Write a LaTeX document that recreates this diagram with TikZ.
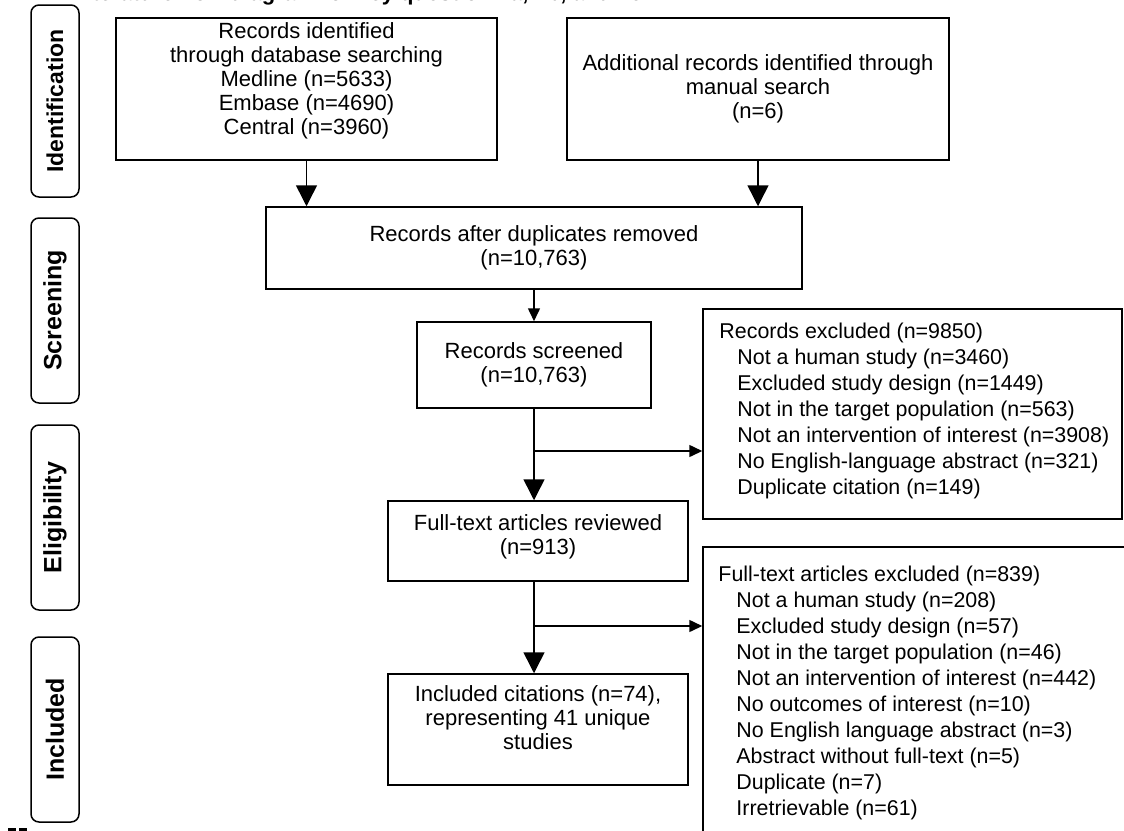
\documentclass[tikz,border=0pt]{standalone}
\usepackage{fontspec}
\setmainfont{Liberation Sans}
\usetikzlibrary{arrows.meta}
\begin{document}
\begin{tikzpicture}[x=1pt,y=-1pt,
  box/.style={draw, line width=1.5pt, inner sep=0pt, align=center, font=\fontsize{22}{24}\selectfont},
  exbox/.style={draw, line width=1.5pt, inner sep=0pt},
  extext/.style={anchor=west, inner sep=0pt, align=left, font=\fontsize{21.4}{25.9}\selectfont},
  side/.style={draw, rounded corners=8pt, line width=1.5pt, inner sep=0pt, rotate=90, minimum height=48pt, font=\bfseries\fontsize{25}{28}\selectfont},
  big/.style={-{Triangle[length=21pt,width=21pt]}, line width=1.5pt},
  small/.style={-{Triangle[length=13pt,width=12pt]}, line width=1.5pt}]
\useasboundingbox (0,0) rectangle (1124,830);
\clip (0,0) rectangle (1124,830);

\node[anchor=base west, font=\bfseries\fontsize{22}{26}\selectfont] (title) at (69,0.5) {Literature flow diagram for key question 1a, 1b, and 1c};

% side labels
\node[side, minimum width=192pt, font=\bfseries\fontsize{23}{26}\selectfont] (sid) at (55,101) {Identification};
\node[side, minimum width=185pt] (ssc) at (55,310.5) {Screening};
\node[side, minimum width=185pt] (sel) at (55,517.5) {Eligibility};
\node[side, minimum width=185pt] (sin) at (55,729.5) {Included};

% main boxes
\node[box, minimum width=381pt, minimum height=142pt] (A) at (306.5,89)
  {Records identified\\through database searching\\Medline (n=5633)\\Embase (n=4690)\\Central (n=3960)\\[-4pt]\mbox{}};
\node[box, minimum width=382pt, minimum height=142pt] (B) at (758,89)
  {Additional records identified through\\manual search\\(n=6)};
\node[box, minimum width=536pt, minimum height=82pt] (D) at (534,248)
  {Records after duplicates removed\\(n=10,763)};
\node[box, minimum width=234pt, minimum height=86pt] (S) at (534,365)
  {Records screened\\(n=10,763)};
\node[box, minimum width=300pt, minimum height=80pt] (F) at (538,541)
  {Full-text articles reviewed\\(n=913)\\[-12pt]\mbox{}};
\node[box, minimum width=300pt, minimum height=111pt] (I) at (538,729.5)
  {Included citations (n=74),\\representing 41 unique\\studies\\[0pt]\mbox{}};

% exclusion boxes
\node[exbox, minimum width=419pt, minimum height=210pt] (E1) at (912.5,414) {};
\node[extext] (E1t) at ([xshift=17pt,yshift=3pt]E1.west)
  {Records excluded (n=9850)\\
   \hspace*{18pt}Not a human study (n=3460)\\
   \hspace*{18pt}Excluded study design (n=1449)\\
   \hspace*{18pt}Not in the target population (n=563)\\
   \hspace*{18pt}Not an intervention of interest (n=3908)\\
   \hspace*{18pt}No English-language abstract (n=321)\\
   \hspace*{18pt}Duplicate citation (n=149)};
\node[exbox, minimum width=447pt, minimum height=292pt] (E2) at (926.5,693) {};
\node[extext] (E2t) at ([xshift=16pt]E2.west)
  {Full-text articles excluded (n=839)\\
   \hspace*{18pt}Not a human study (n=208)\\
   \hspace*{18pt}Excluded study design (n=57)\\
   \hspace*{18pt}Not in the target population (n=46)\\
   \hspace*{18pt}Not an intervention of interest (n=442)\\
   \hspace*{18pt}No outcomes of interest (n=10)\\
   \hspace*{18pt}No English language abstract (n=3)\\
   \hspace*{18pt}Abstract without full-text (n=5)\\
   \hspace*{18pt}Duplicate (n=7)\\
   \hspace*{18pt}Irretrievable (n=61)};

% connectors
\draw[big] (A.south) -- (A.south |- D.north);
\draw[big] (B.south) -- (B.south |- D.north);
\draw[small] (D.south) -- (S.north);
\draw[big] (S.south) -- (S.south |- F.north);
\coordinate (b1) at (534,451);
\draw[small] (b1) -- (b1 -| E1.west);
\draw[big] (F.south -| S.south) -- (S.south |- I.north);
\coordinate (b2) at (534,626);
\draw[small] (b2) -- (b2 -| E2.west);

% cut-off marks at the lower left
\fill (8,827.5) rectangle (16,831);
\fill (19,827.5) rectangle (27,831);
\end{tikzpicture}
\end{document}
